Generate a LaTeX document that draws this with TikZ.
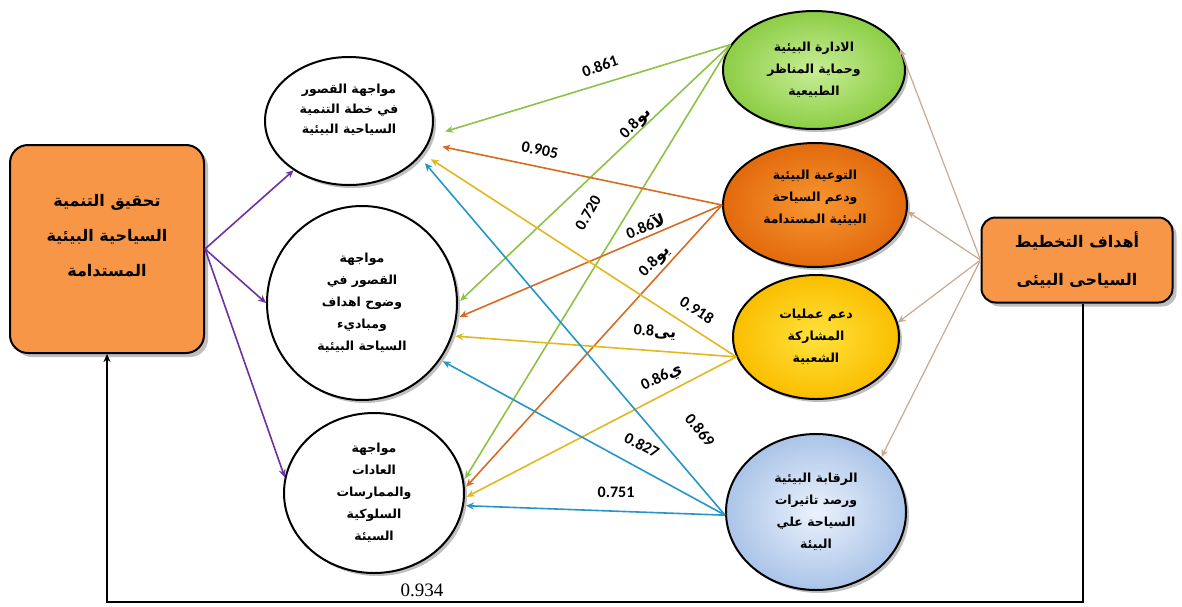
\documentclass[tikz,border=0pt]{standalone}
\usepackage{fontspec}
\setmainfont{Liberation Serif}
\newfontfamily\arabicfont[Script=Arabic]{DejaVu Sans}
\newfontfamily\numfont{Carlito}
\TeXXeTstate=1
\usetikzlibrary{shapes.geometric,shadows,arrows.meta}
\newcommand{\artxt}[1]{\beginR #1\endR}
\newcommand{\arl}[1]{{\arabicfont\bfseries\beginR #1\endR}}
\definecolor{boxorange}{RGB}{247,150,70}
\definecolor{grline}{RGB}{140,195,70}
\definecolor{orline}{RGB}{214,108,35}
\definecolor{yeline}{RGB}{226,184,30}
\definecolor{blline}{RGB}{38,150,200}
\definecolor{puline}{RGB}{112,48,160}
\definecolor{taline}{RGB}{205,168,140}
\tikzset{
  stateell/.style={ellipse, draw=black, line width=2pt, inner sep=0pt, align=center,
    font=\arabicfont\bfseries\fontsize{12.5}{22}\selectfont,
    drop shadow={shadow xshift=3pt, shadow yshift=-3pt, fill=black!50, opacity=.5}},
  goalbox/.style={rectangle, rounded corners=18pt, draw=black, line width=2pt, fill=boxorange,
    align=center, inner sep=0pt, font=\arabicfont\bfseries\fontsize{16}{35}\selectfont,
    drop shadow={shadow xshift=4pt, shadow yshift=-4pt, fill=black!50, opacity=.5}},
  link/.style={line width=1.6pt, -{Stealth[length=8pt,width=7pt]}},
  wlabel/.style={font=\numfont\bfseries\fontsize{16}{16}\selectfont, inner sep=1pt}
}
\begin{document}
\begin{tikzpicture}[x=1pt,y=-1pt]
  \useasboundingbox[fill=white] (0,0) rectangle (1182,606);
  \node[goalbox, minimum width=194pt, minimum height=208pt, text depth=27pt] (lbox) at (107,249)
    {\artxt{تحقيق التنمية}\\\artxt{السياحية البيئية}\\\artxt{المستدامة}};
  \node[goalbox, rounded corners=14pt, minimum width=191pt, minimum height=85pt,
    font=\arabicfont\bfseries\fontsize{16}{38}\selectfont] (rbox) at (1077,260)
    {\artxt{أهداف التخطيط}\\\artxt{السياحى البيئى}};
  \node[stateell, fill=white, minimum width=168pt, minimum height=128pt, text depth=24pt,
    font=\arabicfont\bfseries\fontsize{12.5}{20}\selectfont] (e1) at (349,121)
    {\artxt{مواجهة القصور}\\\artxt{في خطة التنمية}\\\artxt{السياحية البيئية}};
  \node[stateell, fill=white, minimum width=190pt, minimum height=194pt] (e2) at (362,303)
    {\artxt{مواجهة}\\\artxt{القصور في}\\\artxt{وضوح اهداف}\\\artxt{ومباديء}\\\artxt{السياحة البيئية}};
  \node[stateell, fill=white, minimum width=180pt, minimum height=160pt] (e3) at (374,493)
    {\artxt{مواجهة}\\\artxt{العادات}\\\artxt{والممارسات}\\\artxt{السلوكية}\\\artxt{السيئة}};
  \node[stateell, inner color={rgb,255:red,200;green,238;blue,150}, outer color={rgb,255:red,140;green,205;blue,70},
    minimum width=182pt, minimum height=118pt] (gr) at (814,70)
    {\artxt{الادارة البيئية}\\\artxt{وحماية المناظر}\\\artxt{الطبيعية}};
  \node[stateell, inner color={rgb,255:red,248;green,150;blue,50}, outer color={rgb,255:red,226;green,106;blue,12},
    minimum width=184pt, minimum height=124pt, text depth=16pt] (or) at (815,205)
    {\artxt{التوعية البيئية}\\\artxt{ودعم السياحة}\\\artxt{البيئية المستدامة}};
  \node[stateell, inner color={rgb,255:red,255;green,226;blue,60}, outer color={rgb,255:red,250;green,190;blue,0},
    minimum width=166pt, minimum height=124pt] (ye) at (816,337)
    {\artxt{دعم عمليات}\\\artxt{المشاركة}\\\artxt{الشعبية}};
  \node[stateell, inner color={rgb,255:red,235;green,242;blue,252}, outer color={rgb,255:red,170;green,196;blue,232},
    minimum width=180pt, minimum height=156pt] (bl) at (816,512)
    {\artxt{الرقابة البيئية}\\\artxt{ورصد تاثيرات}\\\artxt{السياحة علي}\\\artxt{البيئة}};
  \draw[link, puline] (lbox.east) -- (e1);
  \draw[link, puline] (lbox.east) -- (e2.west);
  \draw[link, puline] (lbox.east) -- (e3.170);
  \draw[link, grline, shorten >=14pt] (gr.163) -- (e1.-10);
  \draw[link, grline, shorten >=3pt] (gr.163) -- (e2.0);
  \draw[link, grline, shorten >=2pt] (gr.163) -- (e3.8);
  \draw[link, orline, shorten >=14pt] (or.west) -- (e1.-16);
  \draw[link, orline, shorten >=3pt] (or.west) -- (e2.-9);
  \draw[link, orline, shorten >=2pt] (or.west) -- (e3.3);
  \draw[link, yeline, shorten >=10pt] (ye.194) -- (e1.-24);
  \draw[link, yeline, shorten >=3pt] (ye.194) -- (e2.-20);
  \draw[link, yeline, shorten >=2pt] (ye.194) -- (e3.-3);
  \draw[link, blline, shorten >=8pt] (bl.182) -- (e1.-27);
  \draw[link, blline, shorten >=3pt] (bl.182) -- (e2.-36);
  \draw[link, blline, shorten >=2pt] (bl.182) -- (e3.-8);
  \draw[link, taline, line width=1.2pt] (rbox.west) -- (gr.14);
  \draw[link, taline, line width=1.2pt] (rbox.west) -- (or.-4);
  \draw[link, taline, line width=1.2pt] (rbox.west) -- (ye.10);
  \draw[link, taline, line width=1.2pt] (rbox.west) -- (bl.40);
  \draw[line width=1.6pt, -{Stealth[length=8pt,width=7pt]}] ([xshift=6pt]rbox.south) -- ([xshift=6pt]rbox.south |- 0,602) -| (lbox.south);
  \node[wlabel, rotate=19] (w1) at (600,66) {0.861};
  \node[wlabel, rotate=45] (w2) at (636,124) {0.8\arl{ىو}};
  \node[wlabel, rotate=-11] (w3) at (540,150) {0.905};
  \node[wlabel, rotate=60] (w4) at (588,213) {0.720};
  \node[wlabel, rotate=22] (w5) at (645,225) {0.86\arl{لآ}};
  \node[wlabel, rotate=45] (w6) at (655,262) {0.8\arl{يو}};
  \node[wlabel, rotate=-33] (w7) at (697,310) {0.918};
  \node[wlabel, rotate=-5] (w8) at (655,332) {0.8\arl{يى}};
  \node[wlabel, rotate=25] (w9) at (662,378) {0.86\arl{ي}};
  \node[wlabel, rotate=-50] (w10) at (700,430) {0.869};
  \node[wlabel, rotate=-28] (w11) at (642,445) {0.827};
  \node[wlabel] (w12) at (616,492) {0.751};
  \node[font=\fontsize{19}{19}\selectfont] (w13) at (422,590) {0.934};
\end{tikzpicture}
\end{document}
